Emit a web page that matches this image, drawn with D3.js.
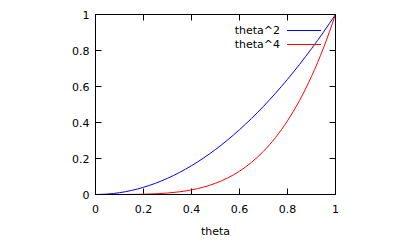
<!DOCTYPE html>
<html>
<head>
<meta charset="utf-8">
<script src="https://cdn.jsdelivr.net/npm/d3@7"></script>
<style>
  body { margin: 0; background: #fff; }
  text { font-family: "DejaVu Sans", sans-serif; font-size: 11px; fill: #000; }
</style>
</head>
<body>
<div id="chart"></div>
<script>
// values
const theta = [0, 0.05, 0.1, 0.15, 0.2, 0.25, 0.3, 0.35, 0.4, 0.45, 0.5, 0.55, 0.6, 0.65, 0.7, 0.75, 0.8, 0.85, 0.9, 0.95, 1];
const thetaSq = [0, 0.0025, 0.01, 0.0225, 0.04, 0.0625, 0.09, 0.1225, 0.16, 0.2025, 0.25, 0.3025, 0.36, 0.4225, 0.49, 0.5625, 0.64, 0.7225, 0.81, 0.9025, 1];
const thetaQuad = [0, 0, 0.0001, 0.0005, 0.0016, 0.0039, 0.0081, 0.015, 0.0256, 0.041, 0.0625, 0.0915, 0.1296, 0.1785, 0.2401, 0.3164, 0.4096, 0.522, 0.6561, 0.8145, 1];
const seriesNames = ["theta^2", "theta^4"];
const xTicks = [0, 0.2, 0.4, 0.6, 0.8, 1];
const yTicks = [0, 0.2, 0.4, 0.6, 0.8, 1];

const width = 407, height = 244;
const mLeft = 95.5, mRight = 335.5, mTop = 14.5, mBottom = 194.5;
const colors = ["#0000ff", "#ff0000"];

const svg = d3.select("#chart").append("svg")
    .attr("width", width)
    .attr("height", height);

const x = d3.scaleLinear().domain([0, 1]).range([mLeft, mRight]);
const y = d3.scaleLinear().domain([0, 1]).range([mBottom, mTop]);

const fmt = d => d === 0 || d === 1 ? String(d) : d3.format(".1f")(d);

// ticks, inward and mirrored
const tickLen = 6;
const tg = svg.append("g").attr("stroke", "#000").attr("stroke-width", 1);
xTicks.forEach(t => {
    tg.append("line").attr("x1", x(t)).attr("x2", x(t)).attr("y1", mBottom).attr("y2", mBottom - tickLen);
    tg.append("line").attr("x1", x(t)).attr("x2", x(t)).attr("y1", mTop).attr("y2", mTop + tickLen);
});
yTicks.forEach(t => {
    tg.append("line").attr("x1", mLeft).attr("x2", mLeft + tickLen).attr("y1", y(t)).attr("y2", y(t));
    tg.append("line").attr("x1", mRight).attr("x2", mRight - tickLen).attr("y1", y(t)).attr("y2", y(t));
});

svg.append("g").selectAll("text").data(xTicks).join("text")
    .attr("x", d => x(d))
    .attr("y", 213)
    .attr("text-anchor", "middle")
    .text(fmt);

svg.append("g").selectAll("text").data(yTicks).join("text")
    .attr("x", 89.5)
    .attr("y", d => y(d) + 4)
    .attr("text-anchor", "end")
    .text(fmt);

svg.append("text")
    .attr("x", (mLeft + mRight) / 2)
    .attr("y", 235)
    .attr("text-anchor", "middle")
    .text("theta");

// curves
const line = d3.line()
    .x((d, i) => x(theta[i]))
    .y(d => y(d))
    .curve(d3.curveMonotoneX);

[thetaSq, thetaQuad].forEach((s, i) => {
    svg.append("path")
        .attr("d", line(s))
        .attr("fill", "none")
        .attr("stroke", colors[i])
        .attr("stroke-width", 1);
});

// legend
seriesNames.forEach((name, i) => {
    const ly = 29.5 + i * 14.5;
    svg.append("text")
        .attr("x", 280)
        .attr("y", ly + 4)
        .attr("text-anchor", "end")
        .text(name);
    svg.append("line")
        .attr("x1", 287).attr("x2", 321)
        .attr("y1", Math.round(ly) + 0.5).attr("y2", Math.round(ly) + 0.5)
        .attr("stroke", colors[i])
        .attr("stroke-width", 1);
});

// border
svg.append("rect")
    .attr("x", mLeft).attr("y", mTop)
    .attr("width", mRight - mLeft).attr("height", mBottom - mTop)
    .attr("fill", "none")
    .attr("stroke", "#000")
    .attr("stroke-width", 1);
</script>
</body>
</html>
